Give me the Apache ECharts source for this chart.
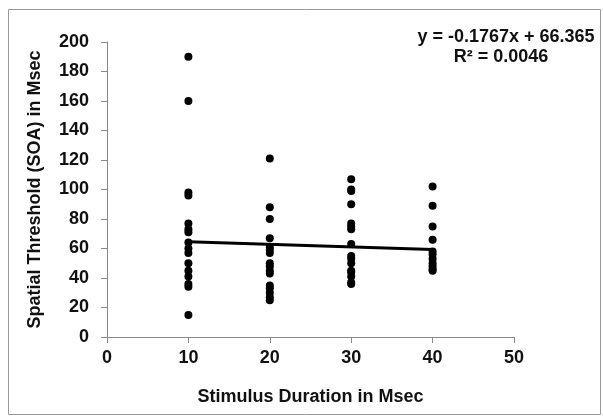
<!DOCTYPE html>
<html>
<head>
<meta charset="utf-8">
<script src="https://cdn.jsdelivr.net/npm/echarts@6/dist/echarts.min.js"></script>
<style>
html,body{margin:0;padding:0;background:#fff;}
#c{width:603px;height:420px;}
</style>
</head>
<body>
<div id="c"></div>
<script>
// Data
const durations = [10, 20, 30, 40];
const thr10 = [190, 160, 98, 96, 77, 73, 71, 64, 60, 57, 50, 45, 41, 36, 34, 15];
const thr20 = [121, 88, 80, 67, 61, 59, 57, 50, 48, 45, 43, 35, 33, 30, 27, 25];
const thr30 = [107, 100, 99, 90, 77, 75, 73, 63, 55, 53, 50, 45, 44, 41, 37, 36];
const thr40 = [102, 89, 75, 66, 58, 56, 53, 50, 48, 46, 45];
const trendSlope = -0.1767;
const trendIntercept = 66.365;
const rSquared = '0.0046';
const xTicks = [0, 10, 20, 30, 40, 50];
const yTicks = [0, 20, 40, 60, 80, 100, 120, 140, 160, 180, 200];

const groups = [thr10, thr20, thr30, thr40];
const points = [];
groups.forEach((g, i) => g.forEach(v => points.push([durations[i], v])));
const xMinD = Math.min(...durations), xMaxD = Math.max(...durations);
const trend = [[xMinD, trendSlope * xMinD + trendIntercept], [xMaxD, trendSlope * xMaxD + trendIntercept]];

const font = 'Liberation Sans, Arial, sans-serif';
const chart = echarts.init(document.getElementById('c'), null, {renderer: 'canvas'});
chart.setOption({
  animation: false,
  backgroundColor: '#fff',
  grid: {left: 107, right: 89, top: 42, bottom: 83, containLabel: false},
  xAxis: {
    type: 'value', min: xTicks[0], max: xTicks[xTicks.length - 1], interval: 10,
    name: 'Stimulus Duration in Msec', nameLocation: 'middle', nameGap: 51,
    nameTextStyle: {fontFamily: font, fontWeight: 'bold', fontSize: 18, color: '#111'},
    axisLine: {show: true, lineStyle: {color: '#888', width: 1}},
    axisTick: {show: true, length: 6, lineStyle: {color: '#888'}},
    axisLabel: {fontFamily: font, fontWeight: 'bold', fontSize: 18, color: '#111', margin: 12},
    splitLine: {show: false}
  },
  yAxis: {
    type: 'value', min: yTicks[0], max: yTicks[yTicks.length - 1], interval: 20,
    name: 'Spatial Threshold (SOA) in Msec', nameLocation: 'middle', nameGap: 63,
    nameTextStyle: {fontFamily: font, fontWeight: 'bold', fontSize: 18, color: '#111'},
    axisLine: {show: true, lineStyle: {color: '#888', width: 1}},
    axisTick: {show: true, length: 6, lineStyle: {color: '#888'}},
    axisLabel: {fontFamily: font, fontWeight: 'bold', fontSize: 18, color: '#111', margin: 18},
    splitLine: {show: false}
  },
  graphic: [
    {type: 'rect', shape: {x: 8.5, y: 9.5, width: 592, height: 405}, style: {fill: 'none', stroke: '#999', lineWidth: 1}, silent: true, z: -1},
    {type: 'text', x: 506, y: 37, style: {text: 'y = ' + trendSlope + 'x + ' + trendIntercept, font: 'bold 18px ' + font, fill: '#111', align: 'center', verticalAlign: 'middle'}},
    {type: 'text', x: 501, y: 57, style: {text: 'R² = ' + rSquared, font: 'bold 18px ' + font, fill: '#111', align: 'center', verticalAlign: 'middle'}}
  ],
  series: [
    {type: 'scatter', data: points, symbol: 'circle', symbolSize: 8, itemStyle: {color: '#000', opacity: 1}, z: 3},
    {type: 'line', data: trend, symbol: 'none', lineStyle: {color: '#000', width: 3}, z: 4}
  ]
});
</script>
</body>
</html>
